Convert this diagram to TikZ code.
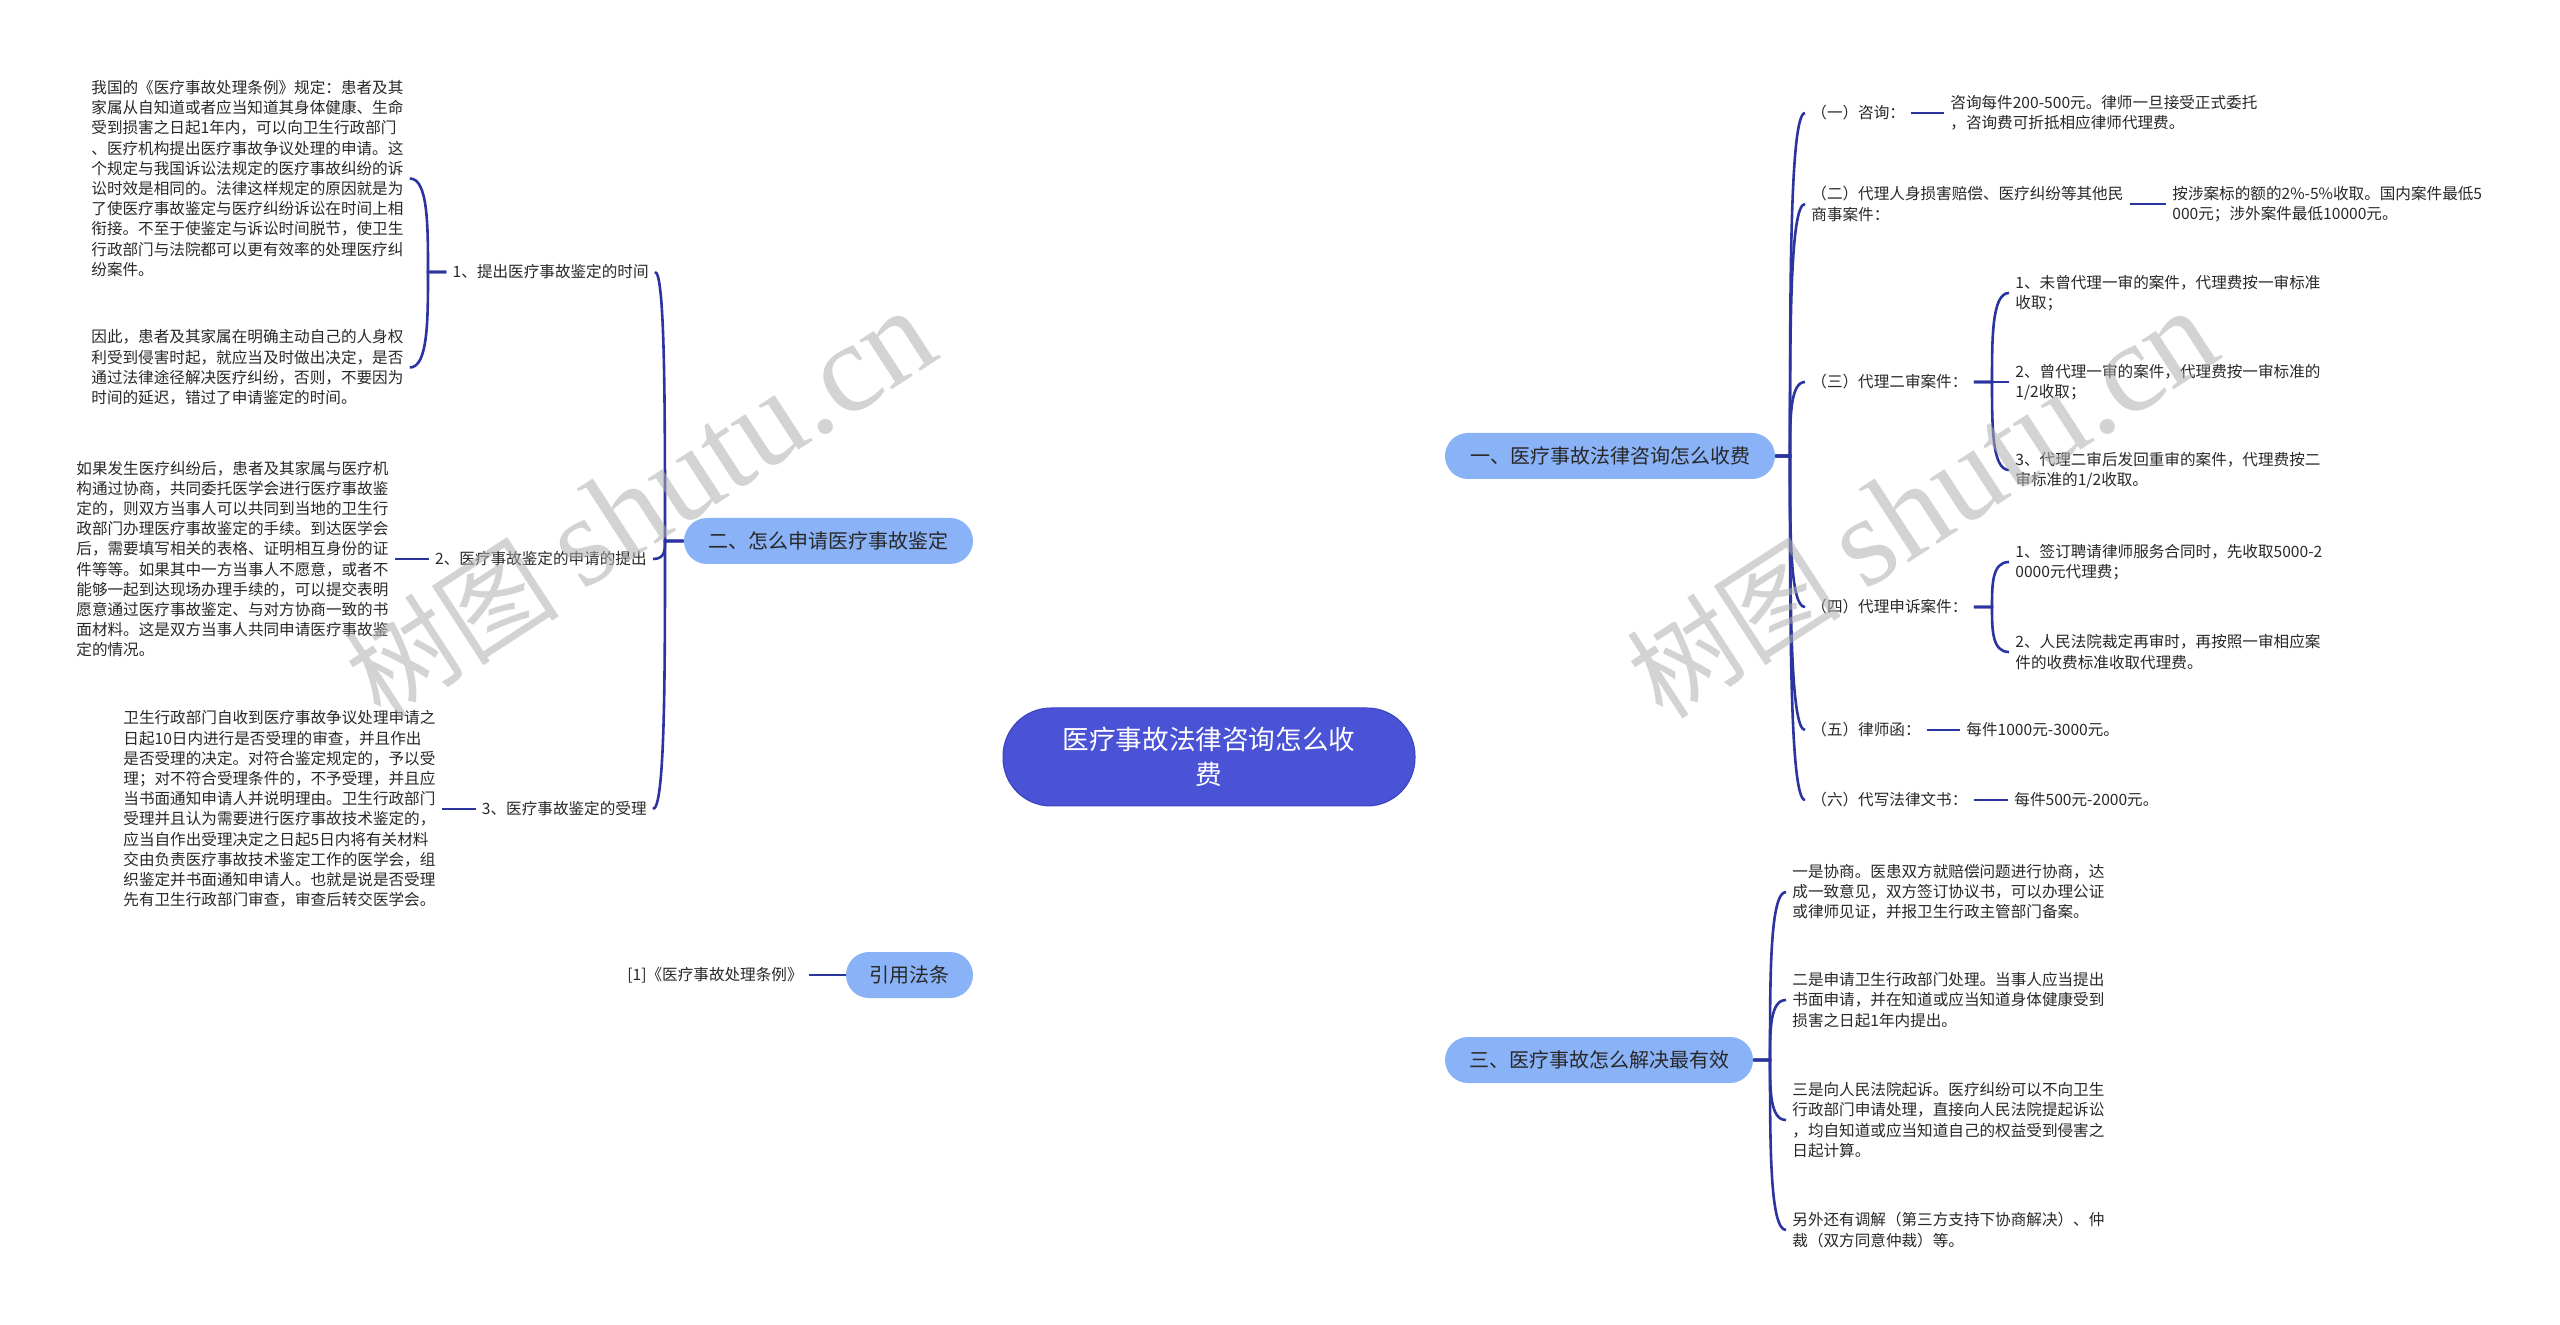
\documentclass[tikz,border=0pt]{standalone}
\usepackage{fontspec}
\setmainfont{Noto Sans CJK SC}
\newfontfamily\wmfont{Liberation Serif}
\usetikzlibrary{backgrounds,calc}
\definecolor{linec}{RGB}{44,52,160}
\definecolor{cfill}{RGB}{74,82,214}
\definecolor{cdraw}{RGB}{60,66,190}
\definecolor{lfill}{RGB}{138,178,247}
\definecolor{txt}{RGB}{40,40,40}
\definecolor{wmc}{RGB}{175,175,175}
\tikzset{
  conn/.style={draw=linec, line width=1.3pt},
  mainline/.style={draw=linec, line width=1.3pt},
  central/.style={fill=cfill, draw=cdraw, line width=0.5pt, rounded corners=24pt,
    minimum width=206pt, minimum height=49pt, align=center, text width=160pt,
    text=white, font=\fontsize{13.3pt}{17.5pt}\selectfont},
  lvlone/.style={fill=lfill, rounded corners=11.5pt, minimum height=23pt, inner sep=0pt,
    text=txt, font=\fontsize{10pt}{12pt}\selectfont},
  leaf/.style={align=left, inner xsep=3pt, inner ysep=1pt, text=txt,
    font=\fontsize{7.8pt}{10.1pt}\selectfont},
  wm/.style={text=wmc, opacity=0.55, inner sep=0pt}
}
% curved branch from junction #1 to target #2
\newcommand{\branchto}[3]{%
  \draw[conn] (#1) -- (#2) .. controls ($(#2)!0.5!(#2 |- #3)$) and (#2 |- #3) .. (#3);}
\begin{document}
\begin{tikzpicture}[x=0.5pt,y=-0.5pt]
\useasboundingbox (0,0) rectangle (2560,1325);
\fill[white] (0,0) rectangle (2560,1325);

% central and level one
\node[central] (c) at (1209,757) {医疗事故法律咨询怎么收\\费};
\node[lvlone, minimum width=165pt] (n1) at (1610,456) {一、医疗事故法律咨询怎么收费};
\node[lvlone, minimum width=144.5pt] (n2) at (828.5,541) {二、怎么申请医疗事故鉴定};
\node[lvlone, minimum width=154pt] (n3) at (1599,1060) {三、医疗事故怎么解决最有效};
\node[lvlone, minimum width=63.5pt] (n4) at (909.5,975) {引用法条};

% left branch (二)
\node[leaf, anchor=east] (m1) at (655,272) {1、提出医疗事故鉴定的时间};
\node[leaf, anchor=east] (m2) at (653,559) {2、医疗事故鉴定的申请的提出};
\node[leaf, anchor=east] (m3) at (653,809) {3、医疗事故鉴定的受理};
\node[leaf, anchor=west] (la) at (85,178.5) {我国的《医疗事故处理条例》规定：患者及其\\家属从自知道或者应当知道其身体健康、生命\\受到损害之日起1年内，可以向卫生行政部门\\、医疗机构提出医疗事故争议处理的申请。这\\个规定与我国诉讼法规定的医疗事故纠纷的诉\\讼时效是相同的。法律这样规定的原因就是为\\了使医疗事故鉴定与医疗纠纷诉讼在时间上相\\衔接。不至于使鉴定与诉讼时间脱节，使卫生\\行政部门与法院都可以更有效率的处理医疗纠\\纷案件。};
\node[leaf, anchor=west] (lb) at (85,367.5) {因此，患者及其家属在明确主动自己的人身权\\利受到侵害时起，就应当及时做出决定，是否\\通过法律途径解决医疗纠纷，否则，不要因为\\时间的延迟，错过了申请鉴定的时间。};
\node[leaf, anchor=west] (l2) at (70,559) {如果发生医疗纠纷后，患者及其家属与医疗机\\构通过协商，共同委托医学会进行医疗事故鉴\\定的，则双方当事人可以共同到当地的卫生行\\政部门办理医疗事故鉴定的手续。到达医学会\\后，需要填写相关的表格、证明相互身份的证\\件等等。如果其中一方当事人不愿意，或者不\\能够一起到达现场办理手续的，可以提交表明\\愿意通过医疗事故鉴定、与对方协商一致的书\\面材料。这是双方当事人共同申请医疗事故鉴\\定的情况。};
\node[leaf, anchor=west] (l3) at (117,809) {卫生行政部门自收到医疗事故争议处理申请之\\日起10日内进行是否受理的审查，并且作出\\是否受理的决定。对符合鉴定规定的，予以受\\理；对不符合受理条件的，不予受理，并且应\\当书面通知申请人并说明理由。卫生行政部门\\受理并且认为需要进行医疗事故技术鉴定的，\\应当自作出受理决定之日起5日内将有关材料\\交由负责医疗事故技术鉴定工作的医学会，组\\织鉴定并书面通知申请人。也就是说是否受理\\先有卫生行政部门审查，审查后转交医学会。};
\node[leaf, anchor=east] (ref) at (809,975) {[1]《医疗事故处理条例》};

% right branch (一)
\node[leaf, anchor=west] (r1) at (1805,113) {（一）咨询：};
\node[leaf, anchor=west] (c1) at (1944,113) {咨询每件200-500元。律师一旦接受正式委托\\，咨询费可折抵相应律师代理费。};
\node[leaf, anchor=west] (r2) at (1805,204) {（二）代理人身损害赔偿、医疗纠纷等其他民\\商事案件：};
\node[leaf, anchor=west] (c2) at (2166,204) {按涉案标的额的2\%-5\%收取。国内案件最低5\\000元；涉外案件最低10000元。};
\node[leaf, anchor=west] (r3) at (1805,382) {（三）代理二审案件：};
\node[leaf, anchor=west] (d1) at (2009,293) {1、未曾代理一审的案件，代理费按一审标准\\收取；};
\node[leaf, anchor=west] (d2) at (2009,382) {2、曾代理一审的案件，代理费按一审标准的\\1/2收取；};
\node[leaf, anchor=west] (d3) at (2009,470) {3、代理二审后发回重审的案件，代理费按二\\审标准的1/2收取。};
\node[leaf, anchor=west] (r4) at (1805,607) {（四）代理申诉案件：};
\node[leaf, anchor=west] (e1) at (2009,562) {1、签订聘请律师服务合同时，先收取5000-2\\0000元代理费；};
\node[leaf, anchor=west] (e2) at (2009,652) {2、人民法院裁定再审时，再按照一审相应案\\件的收费标准收取代理费。};
\node[leaf, anchor=west] (r5) at (1805,730) {（五）律师函：};
\node[leaf, anchor=west] (c5) at (1960,730) {每件1000元-3000元。};
\node[leaf, anchor=west] (r6) at (1805,800) {（六）代写法律文书：};
\node[leaf, anchor=west] (c6) at (2008,800) {每件500元-2000元。};

% right branch (三)
\node[leaf, anchor=west] (s1) at (1786,892) {一是协商。医患双方就赔偿问题进行协商，达\\成一致意见，双方签订协议书，可以办理公证\\或律师见证，并报卫生行政主管部门备案。};
\node[leaf, anchor=west] (s2) at (1786,1000) {二是申请卫生行政部门处理。当事人应当提出\\书面申请，并在知道或应当知道身体健康受到\\损害之日起1年内提出。};
\node[leaf, anchor=west] (s3) at (1786,1120) {三是向人民法院起诉。医疗纠纷可以不向卫生\\行政部门申请处理，直接向人民法院提起诉讼\\，均自知道或应当知道自己的权益受到侵害之\\日起计算。};
\node[leaf, anchor=west] (s4) at (1786,1230) {另外还有调解（第三方支持下协商解决）、仲\\裁（双方同意仲裁）等。};

% junctions
\coordinate (j1) at (1790,456);
\coordinate (j2) at (665,541);
\coordinate (j3) at (1770,1060);
\coordinate (jm1) at (428,272);
\coordinate (jr3) at (1992,382);
\coordinate (jr4) at (1992,607);

\begin{scope}[on background layer]
\draw[mainline] (c.center) .. controls (1209,560) and (1290,456) .. (n1.west);
\draw[mainline] (c.center) .. controls (1209,610) and (1100,541) .. (n2.east);
\draw[mainline] (c.center) .. controls (1209,960) and (1290,1060) .. (n3.west);
\draw[mainline] (c.center) .. controls (1209,900) and (1100,975) .. (n4.east);
\end{scope}

% connectors left
\foreach \k in {m1,m2,m3} {\branchto{n2.west}{j2}{\k.east}}
\foreach \k in {la,lb} {\branchto{m1.west}{jm1}{\k.east}}
\draw[conn] (m2.west) -- (l2.east);
\draw[conn] (m3.west) -- (l3.east);
\draw[conn] (n4.west) -- (ref.east);

% connectors right (一)
\foreach \k in {r1,r2,r3,r4,r5,r6} {\branchto{n1.east}{j1}{\k.west}}
\draw[conn] (r1.east) -- (c1.west);
\draw[conn] (r2.east) -- (c2.west);
\draw[conn] (r5.east) -- (c5.west);
\draw[conn] (r6.east) -- (c6.west);
\foreach \k in {d1,d2,d3} {\branchto{r3.east}{jr3}{\k.west}}
\foreach \k in {e1,e2} {\branchto{r4.east}{jr4}{\k.west}}

% connectors right (三)
\foreach \k in {s1,s2,s3,s4} {\branchto{n3.east}{j3}{\k.west}}

% watermarks
\node[wm, rotate=33, font=\fontsize{54pt}{54pt}\selectfont] (wm1) at (640,505) {树图 {\wmfont\fontsize{64pt}{64pt}\selectfont shutu.cn}};
\node[wm, rotate=33, font=\fontsize{54pt}{54pt}\selectfont] (wm2) at (1922,505) {树图 {\wmfont\fontsize{64pt}{64pt}\selectfont shutu.cn}};
\end{tikzpicture}
\end{document}
